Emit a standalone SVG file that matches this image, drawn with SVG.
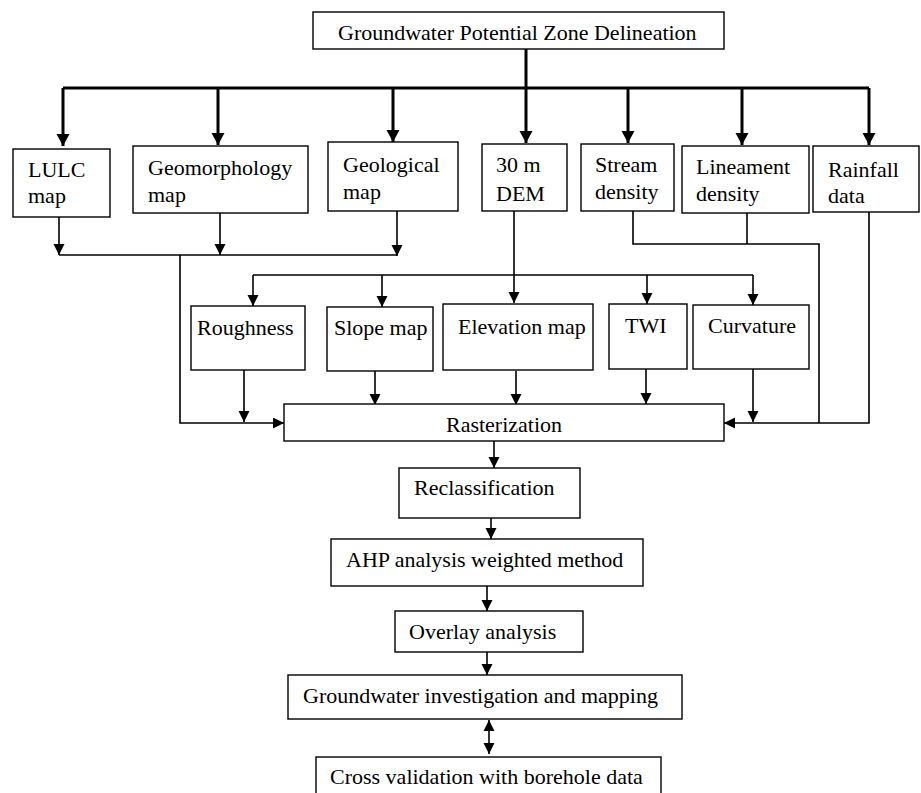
<svg xmlns="http://www.w3.org/2000/svg" width="921" height="793" viewBox="0 0 921 793">
<style>
.box{fill:#fff;stroke:#000;stroke-width:1.4}
.t{font-family:"Liberation Serif","DejaVu Serif",serif;font-size:22px;fill:#000}
.thick{fill:none;stroke:#000;stroke-width:3}
.thin{fill:none;stroke:#000;stroke-width:1.6}
</style>
<defs>
<marker id="ah" markerUnits="userSpaceOnUse" markerWidth="12" markerHeight="12" refX="11" refY="5.5" orient="auto"><path d="M0,0 L11,5.5 L0,11 z" fill="#000"/></marker>
<marker id="ahs" markerUnits="userSpaceOnUse" markerWidth="12" markerHeight="12" refX="0" refY="5.5" orient="auto"><path d="M11,0 L0,5.5 L11,11 z" fill="#000"/></marker>
<marker id="ahb" markerUnits="userSpaceOnUse" markerWidth="14" markerHeight="14" refX="12" refY="6.5" orient="auto"><path d="M0,0 L12,6.5 L0,13 z" fill="#000"/></marker>
</defs>
<rect width="921" height="793" fill="#fff"/>
<g id="connectors">
<path class="thick" d="M526,49 V143" marker-end="url(#ahb)"/>
<path class="thick" d="M63,88 H869"/>
<path class="thick" d="M63,88 V146" marker-end="url(#ahb)"/>
<path class="thick" d="M218,88 V145" marker-end="url(#ahb)"/>
<path class="thick" d="M393,88 V142" marker-end="url(#ahb)"/>
<path class="thick" d="M628,88 V143" marker-end="url(#ahb)"/>
<path class="thick" d="M742,88 V145" marker-end="url(#ahb)"/>
<path class="thick" d="M869,88 V145" marker-end="url(#ahb)"/>
<path class="thin" d="M59,217 V255" marker-end="url(#ah)"/>
<path class="thin" d="M220,213 V255" marker-end="url(#ah)"/>
<path class="thin" d="M397,211 V256" marker-end="url(#ah)"/>
<path class="thin" d="M59,255 H397"/>
<path class="thin" d="M180,255 V423 H284" marker-end="url(#ah)"/>
<path class="thin" d="M514,211 V303" marker-end="url(#ah)"/>
<path class="thin" d="M253,275 H753"/>
<path class="thin" d="M253,275 V306" marker-end="url(#ah)"/>
<path class="thin" d="M382,275 V307" marker-end="url(#ah)"/>
<path class="thin" d="M647,275 V304" marker-end="url(#ah)"/>
<path class="thin" d="M753,275 V305" marker-end="url(#ah)"/>
<path class="thin" d="M244,370 V422" marker-end="url(#ah)"/>
<path class="thin" d="M375,371 V405" marker-end="url(#ah)"/>
<path class="thin" d="M516,371 V405" marker-end="url(#ah)"/>
<path class="thin" d="M646,369 V404" marker-end="url(#ah)"/>
<path class="thin" d="M753,369 V422" marker-end="url(#ah)"/>
<path class="thin" d="M633,211 V244 H819 V423"/>
<path class="thin" d="M747,213 V244"/>
<path class="thin" d="M869,212 V423 H724" marker-end="url(#ah)"/>
<path class="thin" d="M494,441 V468" marker-end="url(#ah)"/>
<path class="thin" d="M491,518 V539" marker-end="url(#ah)"/>
<path class="thin" d="M487,586 V611" marker-end="url(#ah)"/>
<path class="thin" d="M487,652 V675" marker-end="url(#ah)"/>
<path class="thin" d="M489,720 V754" marker-start="url(#ahs)" marker-end="url(#ah)"/>
</g>
<g id="n-top"><rect class="box" x="313" y="12" width="411" height="37"/><text class="t" x="338" y="40">Groundwater Potential Zone Delineation</text></g>
<g id="n-lulc"><rect class="box" x="13" y="149" width="97" height="68"/><text class="t" x="28" y="177">LULC</text><text class="t" x="28" y="203">map</text></g>
<g id="n-geomorph"><rect class="box" x="133" y="146" width="175" height="67"/><text class="t" x="148" y="175">Geomorphology</text><text class="t" x="148" y="202">map</text></g>
<g id="n-geol"><rect class="box" x="328" y="142" width="130" height="69"/><text class="t" x="343" y="172">Geological</text><text class="t" x="343" y="199">map</text></g>
<g id="n-dem"><rect class="box" x="482" y="144" width="85" height="67"/><text class="t" x="496" y="172">30 m</text><text class="t" x="496" y="201">DEM</text></g>
<g id="n-stream"><rect class="box" x="581" y="144" width="93" height="67"/><text class="t" x="595" y="172">Stream</text><text class="t" x="595" y="199">density</text></g>
<g id="n-lineament"><rect class="box" x="682" y="146" width="127" height="67"/><text class="t" x="696" y="174">Lineament</text><text class="t" x="696" y="201">density</text></g>
<g id="n-rainfall"><rect class="box" x="813" y="146" width="106" height="66"/><text class="t" x="828" y="177">Rainfall</text><text class="t" x="828" y="203">data</text></g>
<g id="n-rough"><rect class="box" x="191" y="306" width="114" height="64"/><text class="t" x="197" y="335">Roughness</text></g>
<g id="n-slope"><rect class="box" x="327" y="307" width="106" height="64"/><text class="t" x="334" y="335">Slope map</text></g>
<g id="n-elev"><rect class="box" x="443" y="304" width="150" height="66"/><text class="t" x="458" y="334">Elevation map</text></g>
<g id="n-twi"><rect class="box" x="609" y="304" width="78" height="65"/><text class="t" x="625" y="333">TWI</text></g>
<g id="n-curv"><rect class="box" x="693" y="305" width="116" height="64"/><text class="t" x="708" y="333">Curvature</text></g>
<g id="n-raster"><rect class="box" x="284" y="404" width="440" height="37"/><text class="t" x="504" y="432" text-anchor="middle">Rasterization</text></g>
<g id="n-reclass"><rect class="box" x="399" y="468" width="181" height="50"/><text class="t" x="414" y="495">Reclassification</text></g>
<g id="n-ahp"><rect class="box" x="331" y="539" width="312" height="47"/><text class="t" x="346" y="567">AHP analysis weighted method</text></g>
<g id="n-overlay"><rect class="box" x="395" y="611" width="188" height="41"/><text class="t" x="409" y="639">Overlay analysis</text></g>
<g id="n-gwmap"><rect class="box" x="288" y="675" width="394" height="44"/><text class="t" x="303" y="703">Groundwater investigation and mapping</text></g>
<g id="n-cross"><rect class="box" x="316" y="757" width="345" height="45"/><text class="t" x="330" y="784">Cross validation with borehole data</text></g>
</svg>
